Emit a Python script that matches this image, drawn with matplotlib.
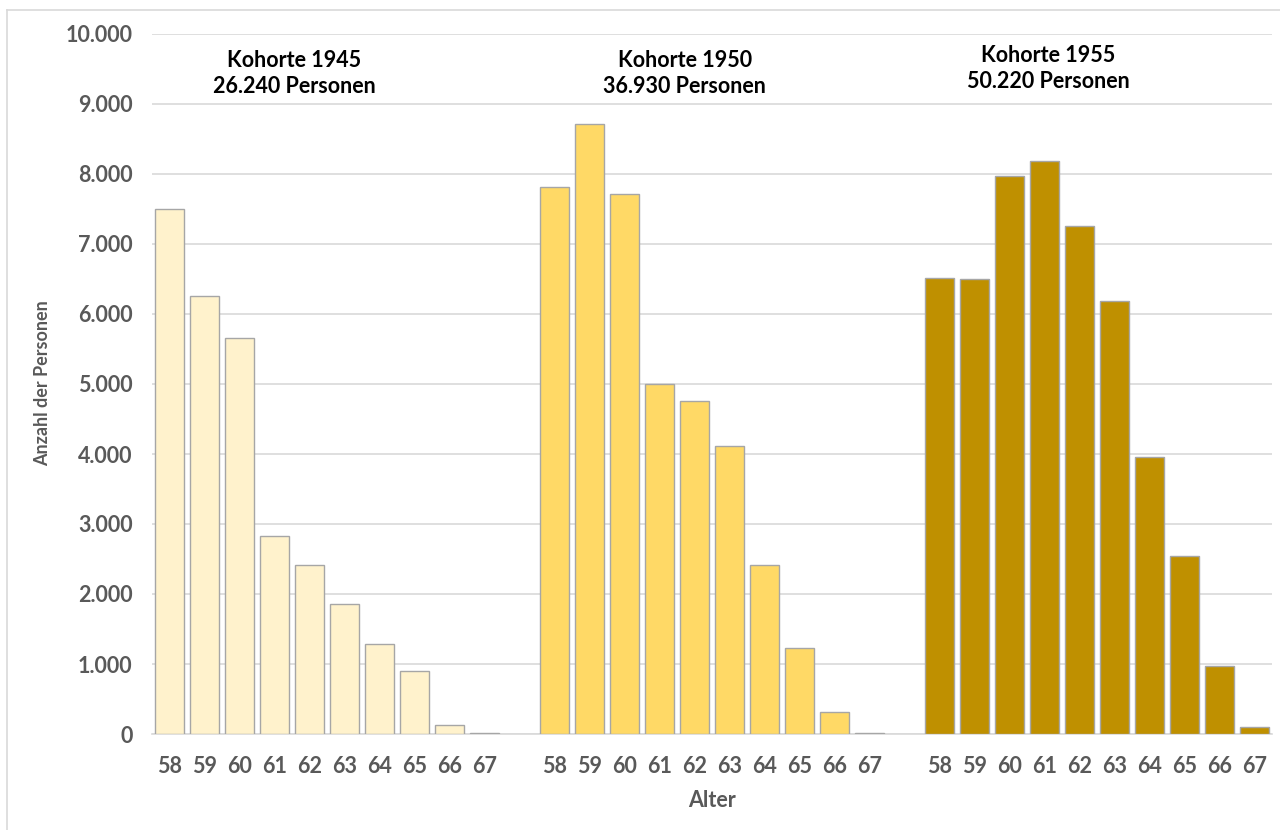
import numpy as np
import matplotlib.pyplot as plt
from matplotlib.lines import Line2D

plt.rcParams["font.family"] = ["Lato", "DejaVu Sans"]

# Alter (x-Achse) und Personen je Kohorte
ages = [58, 59, 60, 61, 62, 63, 64, 65, 66, 67]
kohorte_1945 = [7500, 6260, 5660, 2830, 2410, 1860, 1290, 900, 125, 20]
kohorte_1950 = [7820, 8720, 7720, 5000, 4760, 4110, 2420, 1235, 320, 15]
kohorte_1955 = [6520, 6500, 7970, 8180, 7260, 6180, 3960, 2550, 970, 100]

cohort_names = ["Kohorte 1945", "Kohorte 1950", "Kohorte 1955"]
cohort_totals = [26240, 36930, 50220]
cohort_colors = ["#FFF2CC", "#FFD966", "#BF9000"]

GRAY_TEXT = "#595959"
GRID = "#D9D9D9"


def fmt_de(v):
    return f"{v:,.0f}".replace(",", ".")


fig = plt.figure(figsize=(12.8, 8.3), dpi=100)
ax = fig.add_axes([152 / 1280, 96 / 830, 1120 / 1280, 700 / 830])

series = [kohorte_1945, kohorte_1950, kohorte_1955]
gap = len(ages) + 1
tick_pos = []
tick_lab = []
for i, (vals, color) in enumerate(zip(series, cohort_colors)):
    x = np.arange(len(ages)) + i * gap
    ax.bar(x, vals, width=0.83, color=color, edgecolor="#A6A6A6",
           linewidth=1.0, zorder=3)
    tick_pos.extend(x)
    tick_lab.extend(str(a) for a in ages)

# group headings
label_x = [3.56, 14.72, 25.1]
label_y = [9440, 9430, 9510]
for name, total, lx, ly in zip(cohort_names, cohort_totals, label_x, label_y):
    ax.text(lx, ly, f"{name}\n{fmt_de(total)} Personen", ha="center",
            va="center", fontsize=15.5, fontweight="bold", color="black",
            linespacing=1.3, zorder=4)

ax.set_xlim(-0.5, 3 * gap - 1.5)
ax.set_ylim(0, 10000)
ax.set_yticks(np.arange(0, 10001, 1000))
ax.set_yticklabels([fmt_de(v) for v in np.arange(0, 10001, 1000)])
ax.set_xticks(tick_pos)
ax.set_xticklabels(tick_lab)

ax.tick_params(axis="both", length=0, labelsize=15.5, labelcolor=GRAY_TEXT)
ax.tick_params(axis="y", pad=14)
ax.tick_params(axis="x", pad=16)
for lab in ax.get_xticklabels() + ax.get_yticklabels():
    lab.set_fontweight("bold")

ax.grid(axis="y", color=GRID, linewidth=1.2, zorder=0)
for side in ["top", "right", "left"]:
    ax.spines[side].set_visible(False)
ax.spines["bottom"].set_color(GRID)
ax.spines["bottom"].set_linewidth(1.2)

ax.set_xlabel("Alter", fontsize=15.5, fontweight="bold", color=GRAY_TEXT,
              labelpad=9)
fig.text(43 / 1280, 1 - 383 / 830, "Anzahl der Personen", rotation=90,
         ha="center", va="center", fontsize=13, fontweight="bold",
         color=GRAY_TEXT)

# chart frame (left and top edge)
fig.add_artist(Line2D([7 / 1280, 7 / 1280], [0, 1 - 10 / 830],
                      transform=fig.transFigure, color=GRID, linewidth=1.2))
fig.add_artist(Line2D([7 / 1280, 1], [1 - 10 / 830, 1 - 10 / 830],
                      transform=fig.transFigure, color=GRID, linewidth=1.2))

fig.savefig("out.png", dpi=100, facecolor="white")
